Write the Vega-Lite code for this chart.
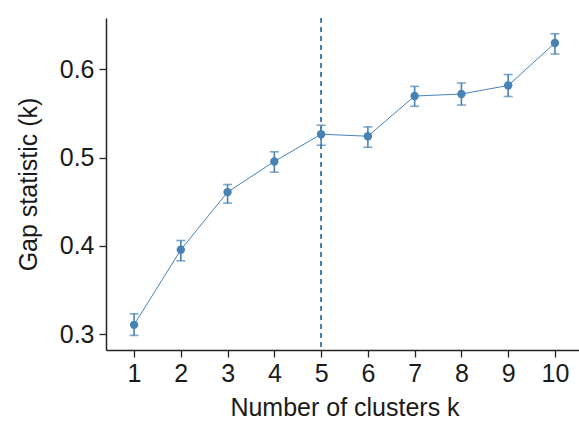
{
  "$schema": "https://vega.github.io/schema/vega-lite/v6.json",
  "autosize": {"type": "none"},
  "width": 477,
  "height": 332,
  "padding": {"left": 106, "top": 18, "right": 0, "bottom": 76},
  "background": "white",
  "config": {
    "view": {"stroke": null},
    "axis": {
      "grid": false,
      "domainColor": "#222222",
      "domainWidth": 1.5,
      "tickColor": "#222222",
      "tickWidth": 1.3,
      "tickSize": 7,
      "labelFont": "Liberation Sans",
      "labelFontSize": 25,
      "labelColor": "#1a1a1a",
      "titleFont": "Liberation Sans",
      "titleFontSize": 25,
      "titleFontWeight": "normal",
      "titleColor": "#1a1a1a"
    }
  },
  "data": {
    "values": [
      {"k": 1, "gap": 0.3105, "lo": 0.2985, "hi": 0.3230},
      {"k": 2, "gap": 0.3955, "lo": 0.3830, "hi": 0.4060},
      {"k": 3, "gap": 0.4608, "lo": 0.4484, "hi": 0.4694},
      {"k": 4, "gap": 0.4955, "lo": 0.4834, "hi": 0.5065},
      {"k": 5, "gap": 0.5264, "lo": 0.5139, "hi": 0.5366},
      {"k": 6, "gap": 0.5241, "lo": 0.5116, "hi": 0.5347},
      {"k": 7, "gap": 0.5696, "lo": 0.5580, "hi": 0.5806},
      {"k": 8, "gap": 0.5719, "lo": 0.5594, "hi": 0.5844},
      {"k": 9, "gap": 0.5816, "lo": 0.5691, "hi": 0.5940},
      {"k": 10, "gap": 0.6297, "lo": 0.6172, "hi": 0.6402}
    ]
  },
  "encoding": {
    "x": {
      "field": "k",
      "type": "quantitative",
      "scale": {"domain": [0.4, 10.6], "nice": false, "zero": false},
      "axis": {
        "values": [1, 2, 3, 4, 5, 6, 7, 8, 9, 10],
        "title": "Number of clusters k",
        "labelPadding": 4,
        "titlePadding": 9,
        "labelFlush": false
      }
    },
    "y": {
      "field": "gap",
      "type": "quantitative",
      "scale": {"domain": [0.282, 0.658], "nice": false, "zero": false},
      "axis": {
        "values": [0.3, 0.4, 0.5, 0.6],
        "format": ".1f",
        "title": "Gap statistic (k)",
        "labelPadding": 5,
        "titlePadding": 18,
        "labelFlush": false
      }
    }
  },
  "layer": [
    {
      "mark": {"type": "rule", "color": "#4682B4", "strokeDash": [5, 4], "strokeWidth": 1.3},
      "encoding": {"x": {"datum": 5}, "y": null}
    },
    {
      "mark": {"type": "line", "color": "#4682B4", "strokeWidth": 1}
    },
    {
      "mark": {
        "type": "errorbar",
        "color": "#4682B4",
        "ticks": {"size": 9, "thickness": 1.6, "color": "#4682B4"},
        "rule": {"strokeWidth": 1.6}
      },
      "encoding": {
        "y": {"field": "lo", "type": "quantitative", "title": "Gap statistic (k)"},
        "y2": {"field": "hi"}
      }
    },
    {
      "mark": {"type": "point", "filled": true, "opacity": 1, "color": "#4682B4", "size": 70}
    }
  ]
}
